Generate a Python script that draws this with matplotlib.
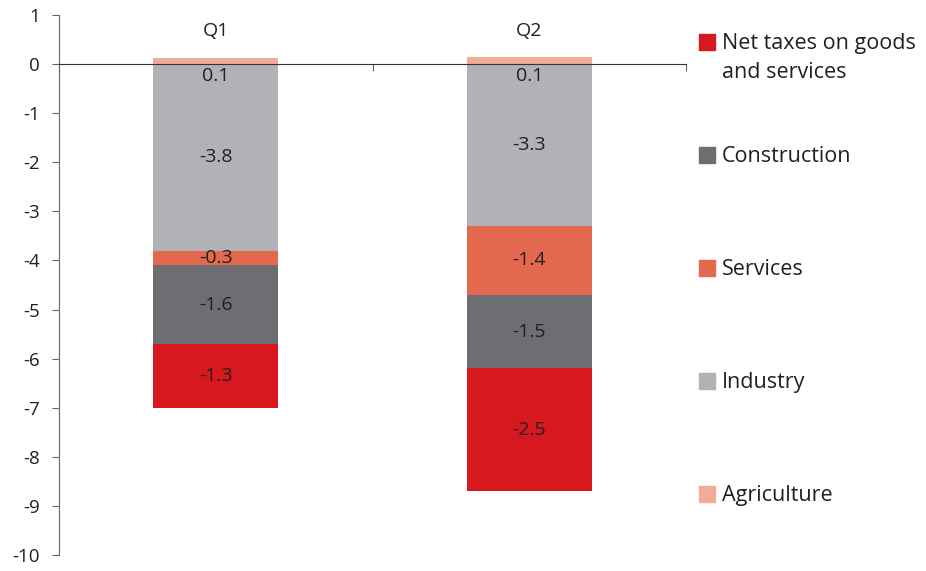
import matplotlib.pyplot as plt
from matplotlib.patches import Rectangle

quarters = ['Q1', 'Q2']
series = ['Agriculture', 'Industry', 'Services', 'Construction',
          'Net taxes on goods\nand services']
agriculture = [0.12, 0.14]
industry = [-3.8, -3.3]
services = [-0.3, -1.4]
construction = [-1.6, -1.5]
net_taxes = [-1.3, -2.5]
colors = ['#F0AC96', '#B1B2B6', '#E5694E', '#6D6E71', '#D7191F']

plt.rcParams['font.family'] = ['Open Sans', 'DejaVu Sans']
plt.rcParams['axes.unicode_minus'] = False

fig = plt.figure(figsize=(9.26, 5.71), dpi=100)
ax = fig.add_axes([59 / 926, 1 - 555 / 571, (686 - 59) / 926, 540 / 571])

x = range(len(quarters))
w = 0.4
txt = '#231F20'
fs = 14

# agriculture (positive) above zero, label just below zero
ax.bar(x, agriculture, w, color=colors[0], zorder=2)
for i, v in enumerate(agriculture):
    ax.text(i, -0.25, f'{v:.1f}', ha='center', va='center', fontsize=fs, color=txt, zorder=4)

bottom = [0.0, 0.0]
for vals, c in zip([industry, services, construction, net_taxes], colors[1:]):
    ax.bar(x, vals, w, bottom=bottom, color=c, zorder=2)
    for i, v in enumerate(vals):
        ax.text(i, bottom[i] + v / 2, f'{v:.1f}', ha='center', va='center',
                fontsize=fs, color=txt, zorder=4)
    bottom = [b + v for b, v in zip(bottom, vals)]

for i, q in enumerate(quarters):
    ax.text(i, 0.67, q, ha='center', va='center', fontsize=fs, color=txt)

ax.set_xlim(-0.5, 1.5)
ax.set_ylim(-10, 1)
ax.set_yticks(range(-10, 2))
ax.set_xticks([-0.5, 0.5, 1.5])
ax.set_xticklabels([])
ax.spines['top'].set_visible(False)
ax.spines['right'].set_visible(False)
ax.spines['bottom'].set_position(('data', 0))
ax.spines['bottom'].set_zorder(3)
ax.spines['bottom'].set_color('#333333')
ax.spines['left'].set_color('#666666')
ax.tick_params(axis='y', length=5, color='#666666', labelsize=13.5, labelcolor=txt, pad=9)
ax.tick_params(axis='x', length=5, color='#666666')

# legend, drawn by hand (top entry first)
leg_y = [42, 155, 268, 381, 494]
for lab, c, yy in zip(series[::-1], colors[::-1], leg_y):
    fig.add_artist(Rectangle((699 / 926, 1 - (yy + 8) / 571), 16 / 926, 16 / 571,
                             transform=fig.transFigure, color=c))
    fig.text(722 / 926, 1 - (yy - 9) / 571, lab, ha='left', va='top',
             fontsize=15.5, color=txt, linespacing=1.5)

fig.savefig('out.png', dpi=100)
